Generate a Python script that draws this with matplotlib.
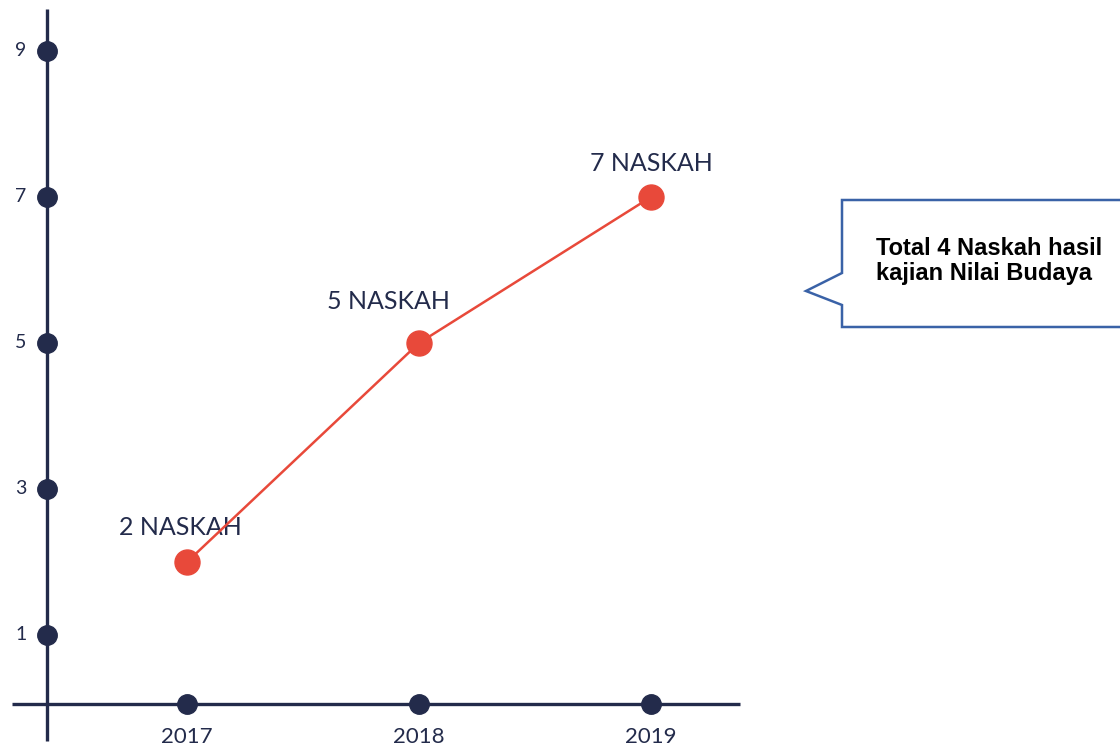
import matplotlib
matplotlib.use('Agg')
import matplotlib.pyplot as plt
from matplotlib.patches import Polygon

years = ['2017', '2018', '2019']
naskah = [2, 5, 7]
labels = ['2 NASKAH', '5 NASKAH', '7 NASKAH']
yticks = [1, 3, 5, 7, 9]
note = 'Total 4 Naskah hasil\nkajian Nilai Budaya'

navy = '#232b4b'
red = '#e8493a'
blue = '#3a62a7'

fig = plt.figure(figsize=(11.2, 7.47), dpi=100)
ax = fig.add_axes([0, 0, 1, 1])
ax.set_xlim(-187 / 232, (1120 - 187) / 232)
ax.set_ylim((708 - 747) / 73, 708 / 73)
ax.axis('off')

x = list(range(len(years)))
yax = -0.603

# axes lines
ax.plot([yax, yax], [-0.45, 9.58], color=navy, lw=2.4, solid_capstyle='butt', zorder=2)
ax.plot([-0.754, 2.384], [0.05, 0.05], color=navy, lw=2.4, solid_capstyle='butt', zorder=2)

# tick dots + labels
ax.plot([yax] * len(yticks), yticks, 'o', color=navy, ms=14, zorder=3)
for v in yticks:
    ax.text(yax - 0.09, v, str(v), ha='right', va='center', fontsize=14,
            color=navy, family='Lato')
ax.plot(x, [0.05] * len(x), 'o', color=navy, ms=14, zorder=3)
for xi, yr in zip(x, years):
    ax.text(xi, -0.4, yr, ha='center', va='center', fontsize=16,
            color=navy, family='Lato')

# data line
ax.plot(x, naskah, color=red, lw=1.8, zorder=4)
ax.plot(x, naskah, 'o', color=red, ms=18, zorder=5)
offsets = [(-5, 25), (-22, 30), (0, 24)]
for xi, v, lab, off in zip(x, naskah, labels, offsets):
    ax.annotate(lab, (xi, v), xytext=off, textcoords='offset points',
                ha='center', va='center', fontsize=18, color=navy, family='Lato')

# callout box
pts = [(842, 200), (1125, 200), (1125, 327), (842, 327), (842, 305), (806, 291), (842, 273)]
poly = Polygon([(px / 1120, 1 - py / 747) for px, py in pts], closed=True,
               transform=fig.transFigure, facecolor='white', edgecolor=blue, lw=1.8)
fig.patches.append(poly)
fig.text(876 / 1120, 1 - 261 / 747, note, ha='left', va='center', fontsize=17,
         fontweight='bold', family='Liberation Sans', color='black', linespacing=1.1)

fig.savefig('out.png', dpi=100)
